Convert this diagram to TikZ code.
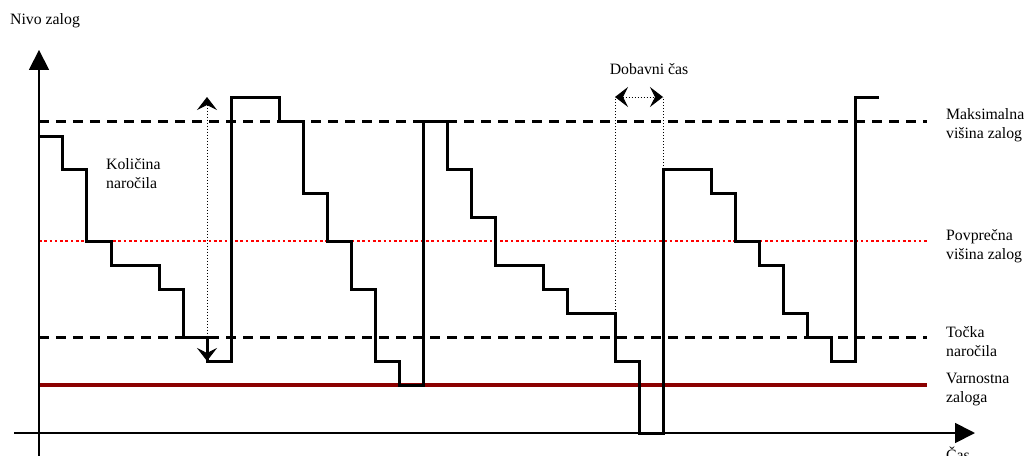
\documentclass[tikz,border=0pt]{standalone}
\usepackage{fontspec}
\setmainfont{Liberation Serif}
\usepackage{xcolor}
\usetikzlibrary{arrows.meta}
\definecolor{ink}{HTML}{000000}
\definecolor{avg}{HTML}{FF0000}
\definecolor{safe}{HTML}{8B0000}
\tikzset{
  axis/.style={draw=ink, line width=1.8pt, -{Triangle[length=20pt,width=20pt]}},
  stock/.style={draw=ink, line width=3pt, line join=miter},
  lvl/.style={draw=ink, line width=3pt, dash pattern=on 10pt off 7pt},
  avgl/.style={draw=avg, line width=2.6pt, dash pattern=on 2.6pt off 2.7pt},
  safel/.style={draw=safe, line width=4.2pt},
  help/.style={draw=ink, line width=1pt, dotted},
  dim/.style={help, {Stealth[length=13pt,width=20pt,inset=5pt]}-{Stealth[length=13pt,width=20pt,inset=5pt]}},
  lab/.style={text=ink, font=\fontsize{15.8}{19}\selectfont, inner sep=0pt, align=left},
}
\begin{document}
\begin{tikzpicture}[x=24pt,y=24pt]
  \useasboundingbox (-1.625,-0.9167) rectangle (41.042,18.042);
  \def\xe{37}
  \coordinate (O) at (0,0);
  \coordinate (Ytop) at (0,15.96);
  \coordinate (Ybot) at (0,-0.95);
  \coordinate (Xl) at (-1.04,0);
  \coordinate (Xr) at (39,0);

  % reference levels
  \draw[lvl] (0,13) -- (\xe,13);
  \draw[avgl] (0,8) -- (\xe,8);
  \draw[lvl] (0,4) -- (\xe,4);
  \draw[safel] (0,2) -- (\xe,2);

  % axes
  \draw[axis] (Ybot) -- (Ytop);
  \draw[axis] (Xl) -- (Xr);

  % stock level
  \draw[stock] (0,12.375) -| (1,11) -| (2,8) -| (3,7) -| (5,6) -| (6,4)
    -| (7,3) -| (8,14) -| (10,13) -| (11,10) -| (12,8) -| (13,6) -| (14,3)
    -| (15,2) -| (16,13) -| (17,11) -| (18,9) -| (19,7) -| (21,6) -| (22,5)
    -| (24,3) -| (25,0) -| (26,11) -| (28,10) -| (29,8) -| (30,7) -| (31,5)
    -| (32,4) -| (33,3) -| (34,14) -- (35,14);

  % order quantity
  \coordinate (Qt) at (7,14);
  \coordinate (Qb) at (7,3);
  \draw[dim] (Qt) -- (Qb);

  % lead time
  \coordinate (La) at (24,14);
  \coordinate (Lb) at (26,14);
  \coordinate (La0) at (24,5);
  \coordinate (Lb0) at (26,11);
  \draw[help] (La0) -- (La);
  \draw[help] (Lb0) -- (Lb);
  \draw[dim] (La) -- (Lb);

  \node[lab,anchor=west] (ylab) at (-1.21,17.17) {Nivo zalog};
  \node[lab,anchor=base west] (xlab) at (37.79,-1.125) {Čas};
  \node[lab,anchor=west] (qlab) at (2.79,10.83) {Količina\\naročila};
  \node[lab] (llab) at (25.42,15.17) {Dobavni čas};
  \node[lab,anchor=west] (mlab) at (37.79,12.83) {Maksimalna\\višina zalog};
  \node[lab,anchor=west] (alab) at (37.79,7.79) {Povprečna\\višina zalog};
  \node[lab,anchor=west] (tlab) at (37.79,3.83) {Točka\\naročila};
  \node[lab,anchor=west] (slab) at (37.79,1.83) {Varnostna\\zaloga};
\end{tikzpicture}
\end{document}
